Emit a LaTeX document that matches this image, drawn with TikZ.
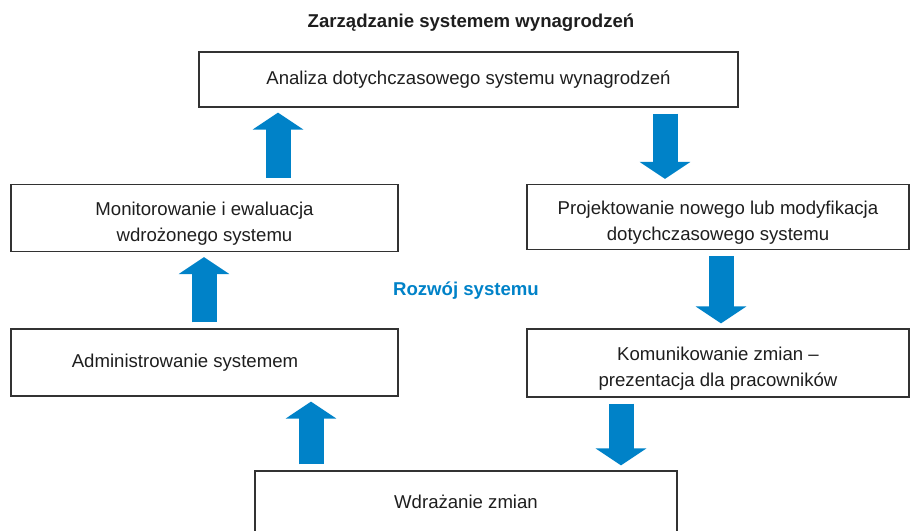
\documentclass[tikz,border=0pt]{standalone}
\usepackage{fontspec}
\setmainfont{Liberation Sans}
\usetikzlibrary{arrows.meta}
\definecolor{flowblue}{RGB}{0,130,200}
\definecolor{boxline}{RGB}{50,50,50}
\definecolor{boxtext}{RGB}{30,30,30}

\begin{document}
\begin{tikzpicture}[x=1pt,y=-1pt,
  every node/.style={text=boxtext,font=\fontsize{18.6}{26}\selectfont},
  box/.style={draw=boxline,line width=1.2pt,inner sep=0pt,align=center},
  twoline/.style={text height=50pt},
  bigarrow/.style={flowblue,line width=25pt,-{Triangle[width=50pt,length=17pt]},shorten <=6pt,shorten >=5pt}]
\useasboundingbox (0,0) rectangle (910,530);

\node (title)   at (471.0,  23.0) {\bfseries Zarządzanie systemem wynagrodzeń};
\node (analiza) at (468.5,  79.5) [box,minimum width=539pt,minimum height=55pt] {Analiza dotychczasowego systemu wynagrodzeń};
\node (monitor) at (204.5, 218.0) [box,twoline,minimum width=387pt,minimum height=67pt] {Monitorowanie i ewaluacja\\wdrożonego systemu};
\node (projekt) at (718.0, 217.0) [box,twoline,minimum width=382pt,minimum height=65pt] {Projektowanie nowego lub modyfikacja\\dotychczasowego systemu};
\node (admin)   at (204.5, 362.5) [box,minimum width=387pt,minimum height=67pt] {};
\node (admintx) at (185.0, 362.5) {Administrowanie systemem};
\node (komun)   at (718.0, 363.0) [box,twoline,minimum width=382pt,minimum height=68pt] {Komunikowanie zmian --\\prezentacja dla pracowników};
\node (wdraz)   at (466.0, 502.0) [box,minimum width=422pt,minimum height=62pt] {Wdrażanie zmian};
\node (rozwoj)  at (466.0, 291.0) [text=flowblue] {\bfseries Rozwój systemu};

\coordinate (c1) at (278, 0);
\coordinate (c2) at (665, 0);
\coordinate (c3) at (204, 0);
\coordinate (c4) at (721, 0);
\coordinate (c5) at (311, 0);
\coordinate (c6) at (621, 0);

\draw [bigarrow] (monitor.north -| c1) -- (analiza.south -| c1);
\draw [bigarrow] (analiza.south -| c2) -- (projekt.north -| c2);
\draw [bigarrow] (admin.north   -| c3) -- (monitor.south -| c3);
\draw [bigarrow] (projekt.south -| c4) -- (komun.north   -| c4);
\draw [bigarrow] (wdraz.north   -| c5) -- (admin.south   -| c5);
\draw [bigarrow] (komun.south   -| c6) -- (wdraz.north   -| c6);
\end{tikzpicture}
\end{document}
